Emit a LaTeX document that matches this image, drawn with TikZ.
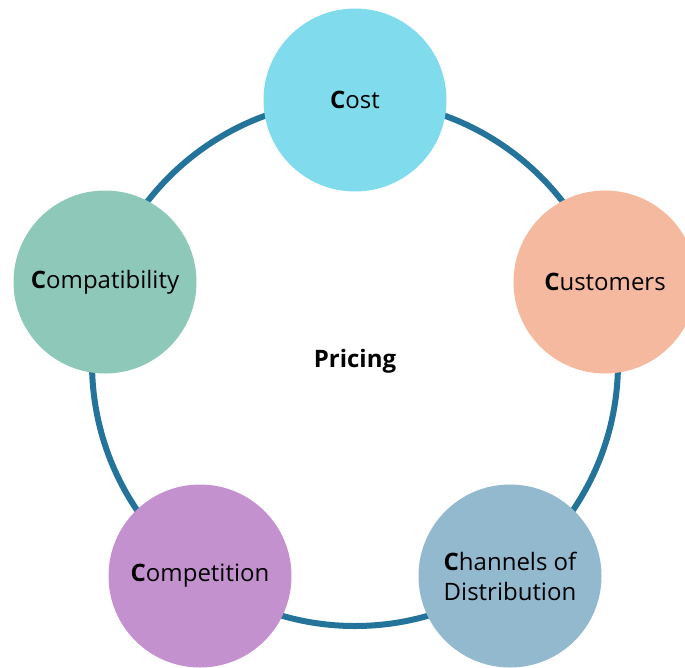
\documentclass[tikz,border=0pt]{standalone}
\usepackage{fontspec}
\setmainfont{Open Sans}
\definecolor{ring}{HTML}{23739B}
\definecolor{ccost}{HTML}{80DCEC}
\definecolor{ccust}{HTML}{F5B9A0}
\definecolor{cchan}{HTML}{93B9CF}
\definecolor{ccomp}{HTML}{C392CE}
\definecolor{ccompat}{HTML}{8EC8B9}
\tikzset{
  pnode/.style={circle, minimum size=183pt, inner sep=0pt, align=center, font=\fontsize{24}{30}\selectfont, text=black},
}
\begin{document}
\begin{tikzpicture}[x=1pt,y=-1pt]
\useasboundingbox (0,0) rectangle (685,667);
\begin{scope}
\clip (0,0) rectangle (685,667);
\node[circle, draw=ring, line width=6pt, minimum size=526pt, inner sep=0pt] (ringc) at (355,363) {};
\node[pnode, fill=ccost] (cost) at (355,100) {\textbf{C}ost};
\node[pnode, fill=ccust] (cust) at (605,282) {\textbf{C}ustomers};
\node[pnode, fill=cchan] (chan) at (510,576) {\textbf{C}hannels of\\Distribution};
\node[pnode, fill=ccomp] (comp) at (200,576) {\textbf{C}ompetition};
\node[pnode, fill=ccompat] (compat) at (105,282) {\textbf{C}ompatibility};
\end{scope}
\node[font=\fontsize{24}{28}\selectfont\bfseries] (pricing) at (355,361) {Pricing};
\end{tikzpicture}
\end{document}
